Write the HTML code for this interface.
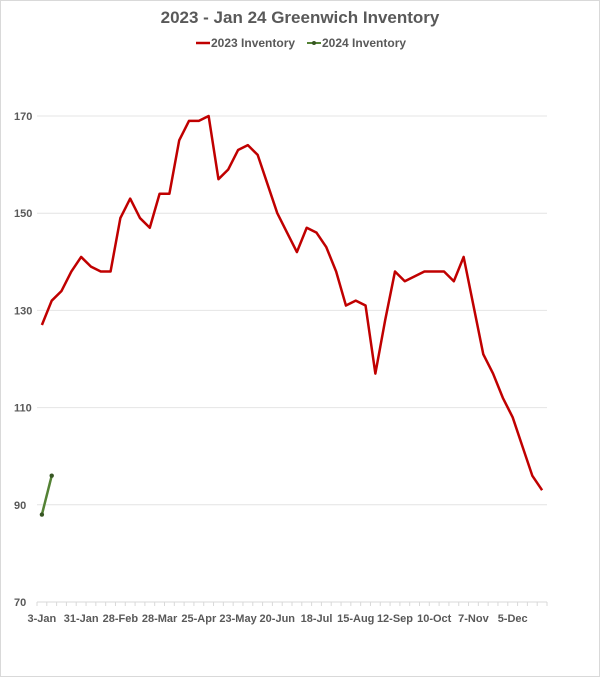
<!DOCTYPE html>
<html><head><meta charset="utf-8"><style>
body{margin:0;background:#fff;font-family:"Liberation Sans",sans-serif;}
svg{display:block}
</style></head><body>
<svg width="600" height="677">
<rect x="0.5" y="0.5" width="599" height="676" fill="#fff" stroke="#d9d9d9"/>
<text x="300" y="23" text-anchor="middle" font-size="17" font-weight="bold" fill="#595959">2023 - Jan 24 Greenwich Inventory</text>
<g id="legend">
<g><line x1="196" y1="43" x2="210" y2="43" stroke="#c00000" stroke-width="2.5"/><text x="211" y="47" font-size="12" font-weight="bold" fill="#595959">2023 Inventory</text></g>
<g><line x1="307" y1="43" x2="321" y2="43" stroke="#548235" stroke-width="2"/><circle cx="314" cy="43" r="2" fill="#375623"/><text x="322" y="47" font-size="12" font-weight="bold" fill="#595959">2024 Inventory</text></g>
</g>
<g id="grid"></g><g id="axes"></g><g id="series"></g>
</svg>
<script>
const categories=["3-Jan","31-Jan","28-Feb","28-Mar","25-Apr","23-May","20-Jun","18-Jul","15-Aug","12-Sep","10-Oct","7-Nov","5-Dec"];
const yTicks=[70,90,110,130,150,170];
const inv2023=[127,132,134,138,141,139,138,138,149,153,149,147,154,154,165,169,169,170,157,159,163,164,162,156,150,146,142,147,146,143,138,131,132,131,117,128,138,136,137,138,138,138,136,141,131,121,117,112,108,102,96,93];
const inv2024=[88,96];
const NS="http://www.w3.org/2000/svg";
const x0=37,x1=547,y0=602,y1=116,nCat=52,yMin=70,yMax=170;
const step=(x1-x0)/nCat;
const X=i=>x0+step*(i+0.5);
const Y=v=>y0-(v-yMin)/(yMax-yMin)*(y0-y1);
function mk(t,a,p){const e=document.createElementNS(NS,t);for(const k in a)e.setAttribute(k,a[k]);p.appendChild(e);return e;}
const grid=document.getElementById('grid'),axes=document.getElementById('axes'),series=document.getElementById('series');
yTicks.forEach(v=>{
 const l=mk('line',{x1:x0,x2:x1,y1:Y(v),y2:Y(v),stroke:v===70?'#d9d9d9':'#e4e4e4','stroke-width':1},grid);
 
 
 const t=mk('text',{x:14,y:Y(v)+4,'font-size':11,'font-weight':'bold',fill:'#595959'},axes);
 t.textContent=v;
 
 
});
for(let i=0;i<=nCat;i++){
 const tk=mk('line',{x1:x0+step*i,x2:x0+step*i,y1:y0,y2:y0+4,stroke:'#d9d9d9'},axes);
 
 
}
categories.forEach((c,j)=>{
 const t=mk('text',{x:X(j*4),y:622,'text-anchor':'middle','font-size':11,'font-weight':'bold',fill:'#595959'},axes);
 t.textContent=c;
 
 
});
const p1=mk('polyline',{points:inv2023.map((v,i)=>X(i)+','+Y(v)).join(' '),fill:'none',stroke:'#c00000','stroke-width':2.5,'stroke-linejoin':'round'},series);


const p2=mk('polyline',{points:inv2024.map((v,i)=>X(i)+','+Y(v)).join(' '),fill:'none',stroke:'#548235','stroke-width':2.5},series);


inv2024.forEach((v,i)=>{
 const c=mk('circle',{cx:X(i),cy:Y(v),r:2.2,fill:'#375623'},series);
 
 
});
</script>
</body></html>
